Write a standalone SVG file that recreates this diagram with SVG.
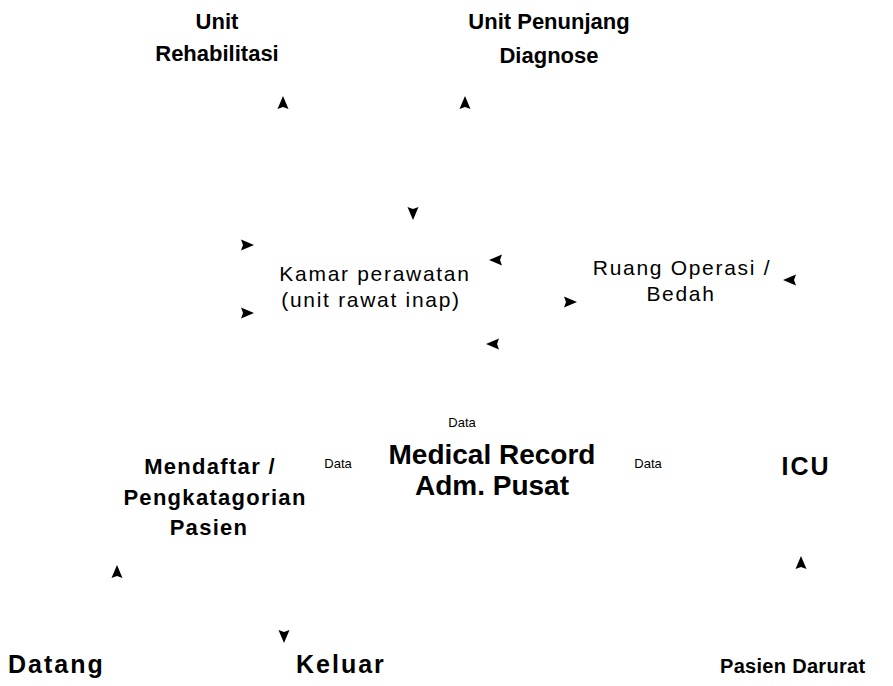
<svg xmlns="http://www.w3.org/2000/svg" width="893" height="686" viewBox="0 0 893 686">
<style>
text{font-family:"Liberation Sans",Arial,sans-serif;fill:#000;text-anchor:middle}
.b{font-weight:bold;font-size:22px}
.m{font-weight:bold;font-size:22px;letter-spacing:1.3px}
.bl{font-weight:bold;font-size:28px}
.n{font-size:21px;letter-spacing:1.7px}
.s{font-size:13px}
.bt{font-weight:bold;font-size:25px;letter-spacing:2px;text-anchor:start}
.a{fill:#000}
</style>
<defs>
<path id="up" d="M0,-7 L5.5,6 L0,4 L-5.5,6 Z"/>
</defs>
<g id="connectors">
<use href="#up" class="a" transform="translate(283,103)"/>
<use href="#up" class="a" transform="translate(465,103)"/>
<use href="#up" class="a" transform="translate(413,213) rotate(180)"/>
<use href="#up" class="a" transform="translate(247,245) rotate(90)"/>
<use href="#up" class="a" transform="translate(247,313) rotate(90)"/>
<use href="#up" class="a" transform="translate(496,260) rotate(-90)"/>
<use href="#up" class="a" transform="translate(493,344) rotate(-90)"/>
<use href="#up" class="a" transform="translate(570,302) rotate(90)"/>
<use href="#up" class="a" transform="translate(790,280) rotate(-90)"/>
<use href="#up" class="a" transform="translate(117,572)"/>
<use href="#up" class="a" transform="translate(801,563)"/>
<use href="#up" class="a" transform="translate(284,636) rotate(180)"/>
</g>
<g id="rehab"><text class="b" x="217" y="29">Unit</text><text class="b" x="217" y="61">Rehabilitasi</text></g>
<g id="penunjang"><text class="b" x="549" y="29">Unit Penunjang</text><text class="b" x="549" y="63">Diagnose</text></g>
<g id="kamar"><text class="n" x="375" y="281">Kamar perawatan</text><text class="n" x="371" y="307">(unit rawat inap)</text></g>
<g id="ruang"><text class="n" x="682" y="275">Ruang Operasi /</text><text class="n" x="681" y="301">Bedah</text></g>
<g id="data1"><text class="s" x="462" y="427">Data</text></g>
<g id="data2"><text class="s" x="338" y="468">Data</text></g>
<g id="data3"><text class="s" x="648" y="468">Data</text></g>
<g id="medrec"><text class="bl" x="492" y="464">Medical Record</text><text class="bl" x="492" y="495">Adm. Pusat</text></g>
<g id="mendaftar"><text class="m" x="210" y="474">Mendaftar /</text><text class="m" x="215" y="505">Pengkatagorian</text><text class="m" x="209" y="535">Pasien</text></g>
<g id="icu"><text class="b" x="806" y="475" style="font-size:25px;letter-spacing:2px">ICU</text></g>
<g id="datang"><text class="bt" x="8" y="673">Datang</text></g>
<g id="keluar"><text class="bt" x="296" y="673">Keluar</text></g>
<g id="darurat"><text class="b" x="720" y="673" style="text-anchor:start;font-size:20px;letter-spacing:0.3px">Pasien Darurat</text></g>
</svg>
